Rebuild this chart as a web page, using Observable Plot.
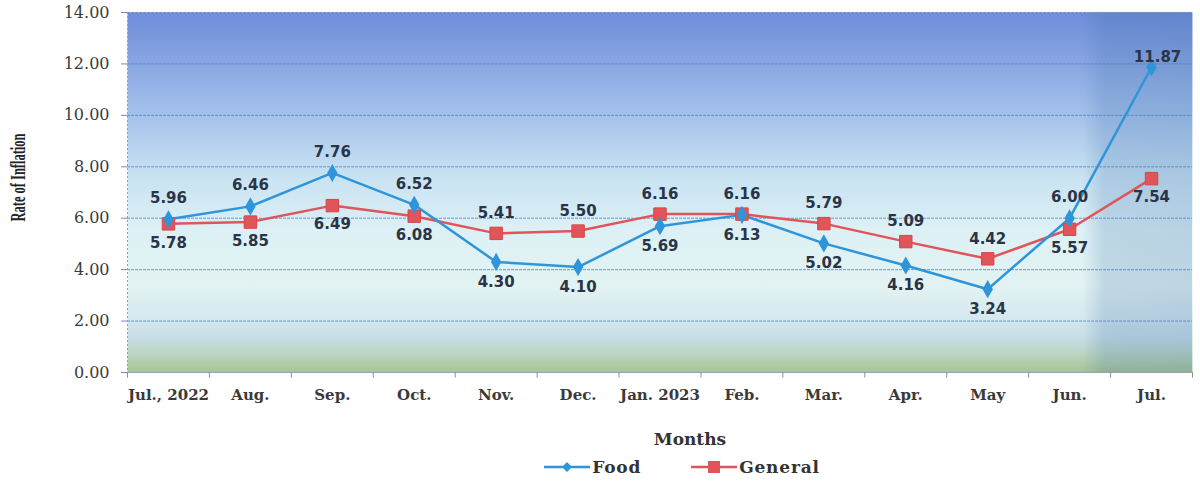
<!DOCTYPE html>
<html>
<head>
<meta charset="utf-8">
<script src="https://cdn.jsdelivr.net/npm/d3@7"></script>
<script src="https://cdn.jsdelivr.net/npm/@observablehq/plot@0.6"></script>
<style>
  html, body { margin: 0; padding: 0; background: #ffffff; }
  #chart { width: 1200px; height: 450px; }
  #legend { height: 31px; display: flex; justify-content: center; align-items: center; gap: 50px; padding-left: 164px; padding-top: 2px; box-sizing: border-box;
            font-family: "DejaVu Serif", serif; font-weight: bold; font-size: 17px; color: #333; letter-spacing: 0.8px; }
  #legend span.item { display: inline-flex; align-items: center; gap: 2px; }
</style>
</head>
<body>
<div id="chart"></div>
<div id="legend"></div>
<script>
const months = ["Jul., 2022", "Aug.", "Sep.", "Oct.", "Nov.", "Dec.", "Jan. 2023", "Feb.", "Mar.", "Apr.", "May", "Jun.", "Jul."];
const food = [5.96, 6.46, 7.76, 6.52, 4.30, 4.10, 5.69, 6.13, 5.02, 4.16, 3.24, 6.00, 11.87];
const general = [5.78, 5.85, 6.49, 6.08, 5.41, 5.50, 6.16, 6.16, 5.79, 5.09, 4.42, 5.57, 7.54];
const yTicks = [0, 2, 4, 6, 8, 10, 12, 14];
const seriesNames = ["Food", "General"];

const foodColor = "#2e95da";
const genColor = "#e0555a";
const labelColor = "#2b3446";

const rows = months.map((m, i) => ({i, month: m, food: food[i], general: general[i]}));
const last = rows.length - 1;
const idx = rows.map(d => d.i);
const boundaries = d3.range(rows.length + 1).map(i => i - 0.5);

const foodAbove = rows.filter(d => d.food >= d.general && d.i !== last);
const foodBelow = rows.filter(d => d.food < d.general);
const foodTop = rows.filter(d => d.i === last);
const genAbove = rows.filter(d => d.general > d.food);
const genBelow = rows.filter(d => d.general <= d.food);

const labelStyle = {fill: labelColor, fontFamily: "DejaVu Sans, sans-serif", fontWeight: "bold", fontSize: 15, letterSpacing: 1};

const plot = Plot.plot({
  width: 1200,
  height: 450,
  marginLeft: 127,
  marginRight: 8,
  marginTop: 12,
  marginBottom: 78,
  style: {background: "transparent", fontFamily: "DejaVu Serif, serif"},
  x: {type: "linear", domain: [-0.5, rows.length - 0.5]},
  y: {domain: [0, 14]},
  marks: [
    Plot.frame({fill: "url(#bgGrad)", stroke: null}),
    Plot.rect([rows[last]], {x1: d => d.i - 0.5, x2: d => d.i + 0.5, y1: 0, y2: 14, fill: "url(#darkGrad)", insetLeft: -28}),
    Plot.gridY(yTicks, {stroke: "#3f7fd0", strokeOpacity: 0.75, strokeWidth: 1, strokeDasharray: "3,1"}),
    Plot.ruleX([-0.5], {stroke: "#8aa0c0", strokeWidth: 1, strokeDasharray: "2,2"}),
    Plot.ruleY([0], {stroke: "#9aa3ad", strokeWidth: 1}),
    Plot.axisY(yTicks, {tickFormat: d => d.toFixed(2), tickSize: 6, tickPadding: 12, fontSize: 16, fill: "#3a3a3a", stroke: "#6a8cc8", label: null, fontFamily: "DejaVu Serif, serif", letterSpacing: 0.5}),
    Plot.ruleX(boundaries, {y1: 0, y2: -0.22, stroke: "#8a8f96"}),
    Plot.axisX(idx, {tickFormat: i => months[i], tickSize: 0, tickPadding: 17, fontSize: 15, fontWeight: "bold", fill: "#3a3a3a", label: null, fontFamily: "DejaVu Serif, serif", letterSpacing: 0.6}),
    Plot.line(rows, {x: "i", y: "general", stroke: genColor, strokeWidth: 2.5}),
    Plot.line(rows, {x: "i", y: "food", stroke: foodColor, strokeWidth: 2.5}),
    Plot.dot(rows, {x: "i", y: "general", symbol: "square", r: 7, fill: genColor, stroke: "#d64545", strokeWidth: 1}),
    Plot.dot(rows, {x: "i", y: "food", symbol: "diamond", r: 5.5, fill: foodColor}),
    Plot.text(foodAbove, {x: "i", y: "food", text: d => d.food.toFixed(2), dy: -21, ...labelStyle}),
    Plot.text(foodBelow, {x: "i", y: "food", text: d => d.food.toFixed(2), dy: 20, ...labelStyle}),
    Plot.text(foodTop, {x: "i", y: "food", text: d => d.food.toFixed(2), dy: -10, dx: 6, ...labelStyle}),
    Plot.text(genAbove, {x: "i", y: "general", text: d => d.general.toFixed(2), dy: -20, ...labelStyle}),
    Plot.text(genBelow, {x: "i", y: "general", text: d => d.general.toFixed(2), dy: 19, ...labelStyle}),
    Plot.text(["Months"], {frameAnchor: "bottom", dy: 72, dx: 30, text: d => d, fontSize: 17, fontWeight: "bold", fill: "#333", fontFamily: "DejaVu Serif, serif", letterSpacing: 0.8}),
    Plot.text(["Rate of Inflation"], {frameAnchor: "left", textAnchor: "middle", dx: -109, dy: -15, rotate: -90, text: d => d, fontSize: 20, fontWeight: "bold", fill: "#222", fontFamily: "Liberation Serif, serif", className: "ytitle"})
  ]
});

const svg = d3.select(plot);
const defs = svg.insert("defs", ":first-child");
const bg = defs.append("linearGradient").attr("id", "bgGrad").attr("x1", 0).attr("y1", 0).attr("x2", 0).attr("y2", 1);
[[0, "#6e8cda"], [0.12, "#84a2e0"], [0.28, "#a3c1ea"], [0.45, "#c8e2f2"], [0.6, "#dcf0f5"], [0.76, "#e3f3f2"], [0.84, "#d6e9f0"], [0.9, "#c8dfe8"], [0.95, "#b9d5c0"], [1, "#a6c490"]]
  .forEach(([o, c]) => bg.append("stop").attr("offset", o).attr("stop-color", c));
const dk = defs.append("linearGradient").attr("id", "darkGrad").attr("x1", 0).attr("y1", 0).attr("x2", 1).attr("y2", 0);
[[0, 0], [0.2, 0.2], [1, 0.22]].forEach(([o, a]) => dk.append("stop").attr("offset", o).attr("stop-color", "#3a6aa8").attr("stop-opacity", a));

// condense the rotated y-title like the reference
svg.selectAll(".ytitle text").attr("textLength", 88).attr("lengthAdjust", "spacingAndGlyphs");

document.getElementById("chart").appendChild(plot);

// legend
const legend = d3.select("#legend");
const legendItems = [
  {name: seriesNames[0], color: foodColor, symbol: "diamond"},
  {name: seriesNames[1], color: genColor, symbol: "square"}
];
legendItems.forEach(it => {
  const item = legend.append("span").attr("class", "item");
  const s = item.append("svg").attr("width", 46).attr("height", 14);
  s.append("line").attr("x1", 0).attr("x2", 46).attr("y1", 7).attr("y2", 7).attr("stroke", it.color).attr("stroke-width", 2.5);
  if (it.symbol === "diamond") {
    s.append("path").attr("d", "M23,2 L28,7 L23,12 L18,7 Z").attr("fill", it.color);
  } else {
    s.append("rect").attr("x", 17).attr("y", 1).attr("width", 12).attr("height", 12).attr("fill", it.color);
  }
  item.append("span").text(it.name);
});
</script>
</body>
</html>
